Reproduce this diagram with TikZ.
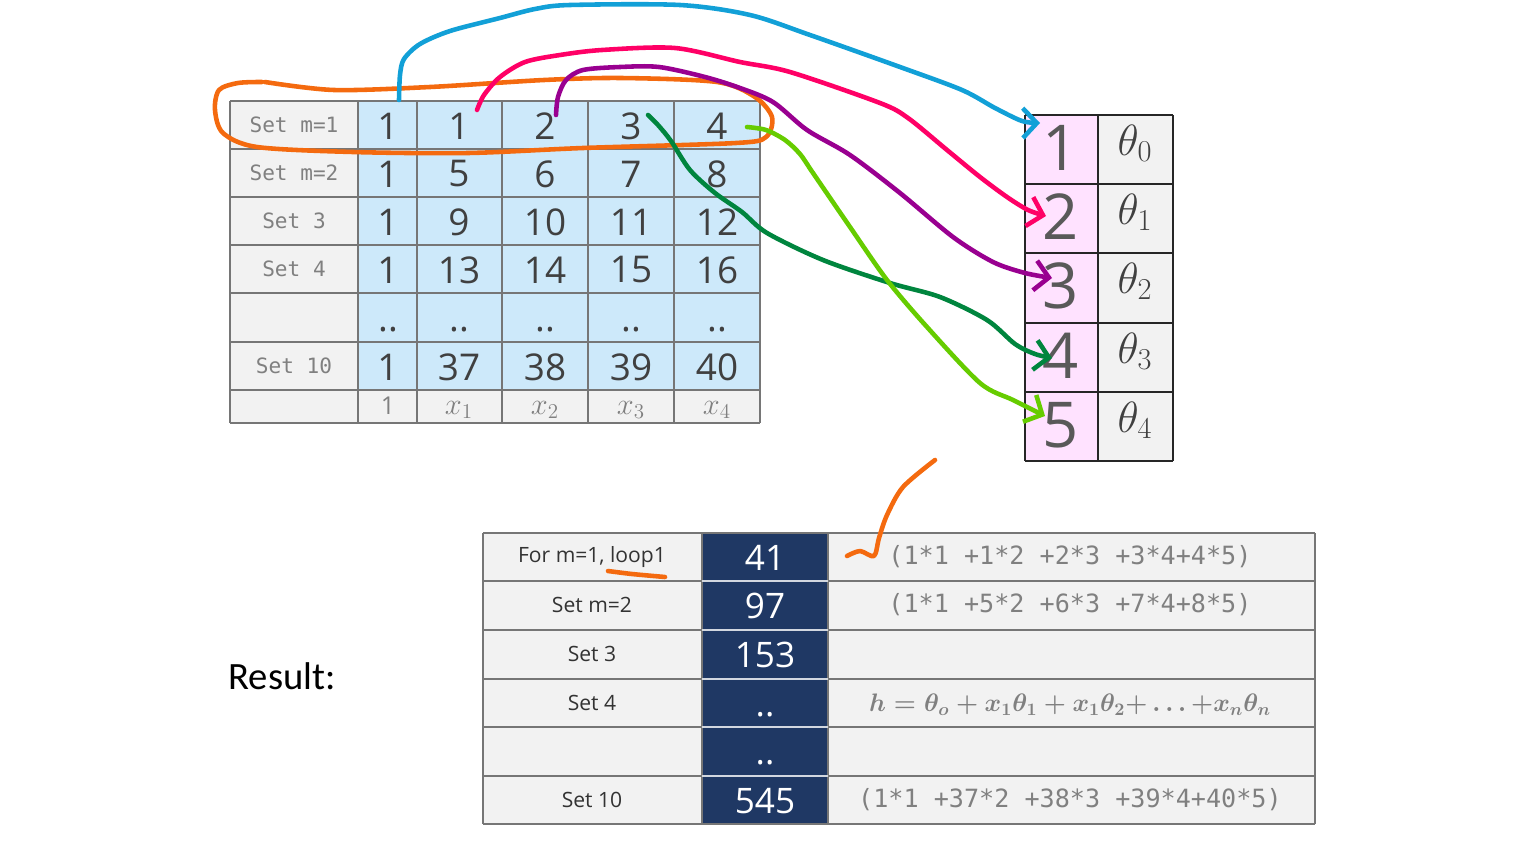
\documentclass[tikz,border=0pt]{standalone}
\usepackage{amsmath}
\usepackage[no-math]{fontspec}
\setmainfont{Open Sans}
\setmonofont{DejaVu Sans Mono}
\newfontfamily\resultfont{Carlito}
\usetikzlibrary{arrows.meta}

\definecolor{cellblue}{RGB}{205,233,250}
\definecolor{cellgrey}{RGB}{242,242,242}
\definecolor{cellpink}{RGB}{255,226,255}
\definecolor{navy}{RGB}{31,56,100}
\definecolor{rulegrey}{RGB}{118,118,118}
\definecolor{numgrey}{RGB}{64,64,64}
\definecolor{bignumgrey}{RGB}{89,89,89}
\definecolor{txtgrey}{RGB}{128,128,128}
\definecolor{penblue}{RGB}{18,160,215}
\definecolor{penpink}{RGB}{255,0,102}
\definecolor{penpurple}{RGB}{153,0,144}
\definecolor{pendkgreen}{RGB}{0,133,62}
\definecolor{penltgreen}{RGB}{102,204,0}
\definecolor{penorange}{RGB}{244,106,15}

\newcommand{\fs}[1]{\fontsize{#1}{#1}\selectfont}
\newcommand{\dotdot}{..}

\begin{document}
\begin{tikzpicture}[x=0.02cm, y=-0.02cm,
    gridline/.style={draw=rulegrey, line width=0.6pt},
    num/.style={text=numgrey, font=\fs{21}, inner sep=0pt},
    setlbl/.style={text=txtgrey, font=\ttfamily\fs{12}, inner sep=0pt},
    xlbl/.style={text=txtgrey, font=\fs{14}, inner sep=0pt},
    pnum/.style={text=bignumgrey, font=\fs{36}, inner sep=0pt},
    thlbl/.style={text=numgrey, font=\fs{23}, inner sep=0pt, anchor=base},
    reslbl/.style={text=numgrey!80!black, font=\fs{12}, inner sep=0pt},
    resnum/.style={text=white, font=\fs{20}, inner sep=0pt},
    sumlbl/.style={text=txtgrey, font=\ttfamily\fs{14.3}, inner sep=0pt},
    pen/.style={line width=2.6pt, line cap=round, line join=round},
    barb/.style={-{Straight Barb[length=8pt,width=17pt]}}
  ]
  \useasboundingbox (0,0) rectangle (1517,842);

  % data table
  \fill[cellgrey] (230,101) rectangle (358,423);
  \fill[cellblue] (358,101) rectangle (760,390);
  \fill[cellgrey] (358,390) rectangle (760,423);
  \foreach \y in {101,149,197,245,293,342,390,423}
    \draw[gridline] (230,\y) -- (760,\y);
  \foreach \x in {230,358,417,502,588,674,760}
    \draw[gridline] (\x,101) -- (\x,423);

  \foreach \r/\y/\t in {1/125/Set m=1, 2/173/Set m=2, 3/221/Set 3, 4/269/Set 4, 6/366/Set 10}
    \node[setlbl] (s\r) at (294,\y) {\t};

  \foreach \r/\y/\a/\b/\c/\d/\e in {1/126/1/1/2/3/4, 2/174/1/5/6/7/8, 3/222/1/9/10/11/12,
      4/270/1/13/14/15/16, 6/367/1/37/38/39/40} {
    \node[num] (n\r-0) at (388,\y) {\a};
    \node[num] (n\r-1) at (459,\y) {\b};
    \node[num] (n\r-2) at (545,\y) {\c};
    \node[num] (n\r-3) at (631,\y) {\d};
    \node[num] (n\r-4) at (717,\y) {\e};
  }
  \foreach \x [count=\i from 0] in {388,459,545,631,717}
    \node[num] (n5-\i) at (\x,330) {\dotdot};

  \node[xlbl] (x0) at (388,406) {1};
  \foreach \x [count=\i] in {459,545,631,717}
    \node[xlbl, font=\fs{17}] (x\i) at (\x,410) {$x_{\i}$};

  % theta table
  \fill[cellpink] (1025,115) rectangle (1098,461);
  \fill[cellgrey] (1098,115) rectangle (1173,461);
  \foreach \y in {115,184,253,323,392,461}
    \draw[line width=0.6pt, black!85] (1025,\y) -- (1173,\y);
  \foreach \x in {1025,1098,1173}
    \draw[line width=0.6pt, black!85] (\x,115) -- (\x,461);
  \foreach \r/\y in {1/115,2/184,3/253,4/323,5/392} {
    \pgfmathtruncatemacro{\k}{\r-1}
    \node[pnum] (t\r) at (1061,\y+33) {\r};
    \node[thlbl] (th\r) at (1135,\y+40) {$\theta_{\k}$};
  }

  % result table
  \fill[cellgrey] (483,533) rectangle (1315,824);
  \fill[navy] (702,533) rectangle (828,824);
  \foreach \y in {533,581,630,679,727,776,824}
    \draw[gridline] (483,\y) -- (1315,\y);
  \foreach \x in {483,702,828,1315}
    \draw[gridline] (\x,533) -- (\x,824);
  \foreach \y in {581,630,679,727,776}
    \draw[white!80!navy, line width=0.6pt] (702,\y) -- (828,\y);

  \foreach \r/\y/\t/\v in {1/557/{For m=1, loop1}/41, 2/605/Set m=2/97, 3/654/Set 3/153, 6/800/Set 10/545} {
    \node[reslbl] (r\r) at (592,\y) {\t};
    \node[resnum] (v\r) at (765,\y+1) {\v};
  }
  \node[reslbl] (r4) at (592,703) {Set 4};
  \node[resnum] (v4) at (765,715) {\dotdot};
  \node[resnum] (v5) at (765,763) {\dotdot};

  \node[sumlbl] (f1) at (1070,557) {(1*1 +1*2 +2*3 +3*4+4*5)};
  \node[sumlbl] (f2) at (1070,605) {(1*1 +5*2 +6*3 +7*4+8*5)};
  \node[sumlbl] (f6) at (1070,800) {(1*1 +37*2 +38*3 +39*4+40*5)};
  \node[text=txtgrey, font=\fs{14.5}, inner sep=0pt] (hyp) at (1070,705)
    {$\boldsymbol{h=\theta_o+x_1\theta_1+x_1\theta_2{+}\ldots{+}x_n\theta_n}$};

  \node[font=\resultfont\fs{22}, inner sep=0pt] (res) at (282,676) {Result:};

  % pen strokes
  \coordinate (bFrom) at (399,100);   \coordinate (bTo) at (1040,123);
  \coordinate (pFrom) at (477,110);   \coordinate (pTo) at (1046,216);
  \coordinate (uFrom) at (556,115);   \coordinate (uTo) at (1052,278);
  \coordinate (dFrom) at (648,115);   \coordinate (dTo) at (1052,358);
  \coordinate (lFrom) at (747,127);   \coordinate (lTo) at (1045,416);

  \draw[pen, penorange] plot[smooth] coordinates {(265,82) (334,90) (430,87) (544,80) (621,78)
    (717,82) (755,97) (772,117) (766,137) (736,143) (583,148) (468,153) (353,152) (257,147)
    (223,133) (215,110) (219,90) (238,83) (262,82)};
  \draw[pen, penblue, barb] plot[smooth] coordinates {(bFrom) (400,75) (404,59) (420,44) (450,31)
    (500,18) (535,9) (570,5) (680,5) (750,15) (810,35) (900,67) (962,90) (995,108) (1022,121) (bTo)};
  \draw[pen, penpink, barb] plot[smooth] coordinates {(pFrom) (484,95) (500,77) (525,62) (560,55)
    (602,50) (675,48) (740,62) (790,72) (880,103) (908,118) (947,150) (980,177) (1007,197)
    (1028,210) (pTo)};
  \draw[pen, penpurple, barb] plot[smooth] coordinates {(uFrom) (558,97) (566,80) (583,70) (620,67)
    (659,67) (705,77) (740,88) (773,102) (807,130) (850,155) (900,193) (953,237) (993,262)
    (1025,273) (uTo)};
  \draw[pen, pendkgreen, barb] plot[smooth] coordinates {(dFrom) (658,125) (671,141) (690,170)
    (715,193) (742,212) (767,233) (823,260) (890,283) (940,297) (987,320) (1015,344) (1035,354)
    (dTo)};
  \draw[pen, penltgreen, barb] plot[smooth] coordinates {(lFrom) (766,130) (785,140) (800,154)
    (813,173) (850,227) (887,280) (927,327) (980,383) (1013,400) (lTo)};

  \draw[pen, penorange] plot[smooth] coordinates {(847,556) (860,551) (874,556) (879,538)
    (887,515) (903,487) (935,460)};
  \draw[pen, penorange] plot[smooth] coordinates {(608,571) (632,574) (665,577)};
\end{tikzpicture}
\end{document}
